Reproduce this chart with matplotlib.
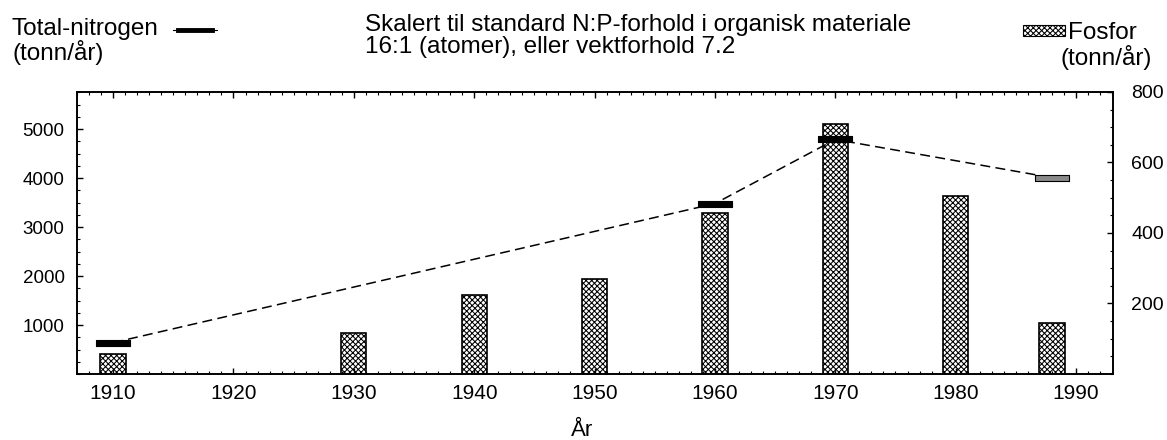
import matplotlib
matplotlib.use("Agg")
import matplotlib.pyplot as plt
from matplotlib.lines import Line2D
from matplotlib.patches import Rectangle
from matplotlib.ticker import MultipleLocator, FixedLocator

plt.rcParams["font.family"] = ["Liberation Sans", "DejaVu Sans"]
plt.rcParams["hatch.linewidth"] = 0.75

# data
aar_fosfor = [1910, 1930, 1940, 1950, 1960, 1970, 1980, 1988]
fosfor = [57, 116, 224, 270, 458, 710, 506, 144]          # tonn/år
aar_nitrogen = [1910, 1960, 1970, 1988]
nitrogen = [640, 3480, 4790, 4010]                          # tonn/år
nitrogen_farge = ["black", "black", "black", "#8a8a8a"]

x_ticks = [1910, 1920, 1930, 1940, 1950, 1960, 1970, 1980, 1990]
n_ticks = [1000, 2000, 3000, 4000, 5000]
p_ticks = [200, 400, 600, 800]
np_forhold = 7.2

fig = plt.figure(figsize=(11.67, 4.4), dpi=100)
ax = fig.add_axes([0.066, 0.15, 0.888, 0.641])
ax2 = ax.twinx()

# fosfor bars on right axis
ax2.bar(aar_fosfor, fosfor, width=2.1, facecolor="white", edgecolor="black",
        linewidth=1.2, hatch="xxxxxx", zorder=2)

# nitrogen on left axis, drawn on top
ax.set_zorder(ax2.get_zorder() + 1)
ax.patch.set_visible(False)
ax.plot(aar_nitrogen, nitrogen, color="black", lw=1.1, ls=(0, (6.5, 3.5)), zorder=3)
rect = [(-3, -0.5), (3, -0.5), (3, 0.5), (-3, 0.5), (-3, -0.5)]
for x, y, c in zip(aar_nitrogen, nitrogen, nitrogen_farge):
    ax.plot([x], [y], marker=rect, markersize=24, markerfacecolor=c,
            markeredgecolor="black", markeredgewidth=0.8, ls="none", zorder=4)

ax.set_xlim(1907, 1993.1)
ax.set_ylim(0, 800 * np_forhold)
ax2.set_ylim(0, 800)

ax.xaxis.set_major_locator(FixedLocator(x_ticks))
ax.xaxis.set_minor_locator(MultipleLocator(1))
ax.yaxis.set_major_locator(FixedLocator(n_ticks))
ax.yaxis.set_minor_locator(MultipleLocator(250))
ax2.yaxis.set_major_locator(FixedLocator(p_ticks))
ax2.yaxis.set_minor_locator(MultipleLocator(50))

ax.tick_params(axis="x", which="both", direction="in", top=True, bottom=True,
               labelsize=15, pad=7)
ax.tick_params(axis="x", which="major", length=4, width=1)
ax.tick_params(axis="x", which="minor", length=2.5, width=0.8)
ax.tick_params(axis="y", which="both", direction="in", right=False,
               labelsize=13.5, pad=9)
ax.tick_params(axis="y", which="major", length=4, width=1)
ax.tick_params(axis="y", which="minor", length=2.5, width=0.8)
ax2.tick_params(axis="y", which="both", direction="in", labelsize=14, pad=13)
ax2.tick_params(axis="y", which="major", length=4, width=1)
ax2.tick_params(axis="y", which="minor", length=2.5, width=0.8)

for a in (ax, ax2):
    for s in a.spines.values():
        s.set_linewidth(1.2)

fig.text(0.4987, 0.01, "År", fontsize=16, ha="center", va="baseline")

# header texts and legend keys
fs = 17.5
fig.text(12 / 1167, 1 - 35 / 440, "Total-nitrogen", fontsize=fs, va="baseline")
fig.text(12 / 1167, 1 - 60 / 440, "(tonn/år)", fontsize=fs, va="baseline")
fig.add_artist(Line2D([173 / 1167, 217 / 1167], [1 - 30 / 440, 1 - 30 / 440],
                      color="black", lw=0.8))
fig.add_artist(Line2D([178 / 1167, 212 / 1167], [1 - 30 / 440, 1 - 30 / 440],
                      color="black", lw=3.5))

fig.text(365 / 1167, 1 - 31 / 440,
         "Skalert til standard N:P-forhold i organisk materiale",
         fontsize=fs, va="baseline")
fig.text(365 / 1167, 1 - 53 / 440,
         "16:1 (atomer), eller vektforhold 7.2", fontsize=fs, va="baseline")

fig.add_artist(Rectangle((1023 / 1167, 1 - 36 / 440), 42 / 1167, 11 / 440,
                         transform=fig.transFigure, facecolor="white",
                         edgecolor="black", lw=0.8, hatch="xxxxxx"))
fig.text(1068 / 1167, 1 - 39 / 440, "Fosfor", fontsize=fs, va="baseline")
fig.text(1152 / 1167, 1 - 65 / 440, "(tonn/år)", fontsize=fs, va="baseline",
         ha="right")

fig.savefig("out.png", dpi=100)
